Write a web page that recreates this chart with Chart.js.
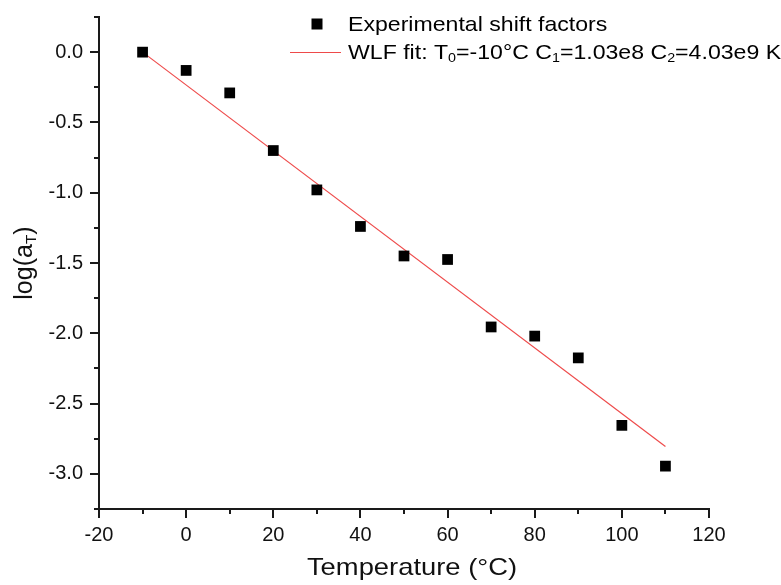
<!DOCTYPE html>
<html>
<head>
<meta charset="utf-8">
<script src="https://cdn.jsdelivr.net/npm/chart.js@4"></script>
<style>
  html, body { margin: 0; padding: 0; background: #fff; }
  #wrap { width: 781px; height: 585px; }
</style>
</head>
<body>
<div id="wrap"><canvas id="wlf"></canvas></div>
<script>
// measured shift factors
var temps = [-10, 0, 10, 20, 30, 40, 50, 60, 70, 80, 90, 100, 110];
var logAT = [0.0, -0.13, -0.29, -0.70, -0.98, -1.24, -1.45, -1.475, -1.955, -2.02, -2.175, -2.655, -2.945];
// WLF fit line end points
var fitT = [-10, 110];
var fitLog = [0.0, -2.806];
// axis tick labels
var xTicks = [-20, 0, 20, 40, 60, 80, 100, 120];
var yTicks = [-3.0, -2.5, -2.0, -1.5, -1.0, -0.5, 0.0];

var FONT = '"Liberation Sans", Arial, sans-serif';
var AXIS = '#1a1a1a';
var RED = '#ee4a4a';

// draws a string made of normal / subscript pieces, returns the width
function drawRich(ctx, parts, x, y, size) {
    var cx = x;
    parts.forEach(function (p) {
        var s = p.sub ? size * 0.62 : size;
        ctx.font = s + 'px ' + FONT;
        ctx.fillText(p.t, cx, p.sub ? y + size * 0.28 : y);
        cx += ctx.measureText(p.t).width;
    });
    return cx - x;
}
function richWidth(ctx, parts, size) {
    var w = 0;
    parts.forEach(function (p) {
        ctx.font = (p.sub ? size * 0.62 : size) + 'px ' + FONT;
        w += ctx.measureText(p.t).width;
    });
    return w;
}

var extras = {
    id: 'extras',
    afterDraw: function (chart) {
        var ctx = chart.ctx;
        var xs = chart.scales.x, ys = chart.scales.y;
        var area = chart.chartArea;
        ctx.save();
        // ticks, major and minor, pointing outwards
        ctx.strokeStyle = AXIS;
        ctx.lineWidth = 2;
        ctx.beginPath();
        for (var t = -20; t <= 120; t += 10) {
            var px = Math.round(xs.getPixelForValue(t));
            var len = (t % 20 === 0) ? 9 : 5;
            ctx.moveTo(px, area.bottom);
            ctx.lineTo(px, area.bottom + len);
        }
        for (var v = -3.25; v <= 0.26; v += 0.25) {
            var py = Math.round(ys.getPixelForValue(v));
            var major = Math.abs(Math.round(v * 2) - v * 2) < 1e-6;
            ctx.moveTo(area.left, py);
            ctx.lineTo(area.left - (major ? 9 : 5), py);
        }
        ctx.stroke();

        ctx.fillStyle = '#111';
        ctx.textBaseline = 'middle';
        // x title (source picture is slightly stretched sideways)
        ctx.save();
        ctx.translate(412, 568);
        ctx.scale(1.14, 1);
        ctx.textAlign = 'center';
        ctx.font = '24px ' + FONT;
        ctx.fillText('Temperature (\u00B0C)', 0, 0);
        ctx.restore();

        // y title with subscript
        ctx.save();
        ctx.translate(25, 263);
        ctx.rotate(-Math.PI / 2);
        ctx.textAlign = 'left';
        var yt = [{t: 'log(a'}, {t: 'T', sub: true}, {t: ')'}];
        var w = richWidth(ctx, yt, 25);
        drawRich(ctx, yt, -w / 2, 0, 25);
        ctx.restore();

        // legend
        ctx.textAlign = 'left';
        ctx.fillStyle = '#000';
        ctx.fillRect(317 - 5.5, 24 - 5.5, 11, 11);
        ctx.strokeStyle = RED;
        ctx.lineWidth = 1;
        ctx.beginPath();
        ctx.moveTo(290, 52.5);
        ctx.lineTo(341, 52.5);
        ctx.stroke();
        ctx.save();
        ctx.translate(348, 0);
        ctx.scale(1.1, 1);
        ctx.font = '21px ' + FONT;
        ctx.fillText('Experimental shift factors', 0, 25);
        drawRich(ctx, [
            {t: 'WLF fit: T'}, {t: '0', sub: true}, {t: '=-10\u00B0C C'}, {t: '1', sub: true},
            {t: '=1.03e8 C'}, {t: '2', sub: true}, {t: '=4.03e9 K'}
        ], 0, 53, 21);
        ctx.restore();
        ctx.restore();
    }
};

var ctx = document.getElementById('wlf').getContext('2d');
var chart = new Chart(ctx, {
    type: 'scatter',
    data: {
        datasets: [{
            label: 'Experimental shift factors',
            data: temps.map(function (t, i) { return {x: t, y: logAT[i]}; }),
            pointStyle: 'rect',
            pointRadius: 7.6,
            backgroundColor: '#000',
            borderColor: '#000',
            borderWidth: 0
        }, {
            label: 'WLF fit',
            data: fitT.map(function (t, i) { return {x: t, y: fitLog[i]}; }),
            showLine: true,
            pointRadius: 0,
            borderColor: RED,
            borderWidth: 1.2
        }]
    },
    options: {
        responsive: true,
        maintainAspectRatio: false,
        animation: false,
        events: [],
        layout: { autoPadding: false, padding: { top: 17, right: 72, left: 0, bottom: 0 } },
        plugins: { legend: { display: false }, tooltip: { enabled: false } },
        scales: {
            x: {
                type: 'linear',
                min: -20, max: 120,
                afterFit: function (s) { s.height = 76; s.paddingLeft = 0; s.paddingRight = 0; },
                afterBuildTicks: function (s) { s.ticks = xTicks.map(function (v) { return {value: v}; }); },
                grid: { drawOnChartArea: false, drawTicks: false },
                border: { display: true, color: AXIS, width: 2 },
                ticks: { padding: 14, color: '#111', font: { family: FONT, size: 20 } }
            },
            y: {
                type: 'linear',
                min: -3.25, max: 0.25,
                afterFit: function (s) { s.width = 99; s.paddingTop = 0; s.paddingBottom = 0; },
                afterBuildTicks: function (s) { s.ticks = yTicks.map(function (v) { return {value: v}; }); },
                grid: { drawOnChartArea: false, drawTicks: false },
                border: { display: true, color: AXIS, width: 2 },
                ticks: {
                    padding: 16, color: '#111',
                    font: { family: FONT, size: 20 },
                    callback: function (v) { return v.toFixed(1); }
                }
            }
        }
    },
    plugins: [extras]
});
</script>
</body>
</html>
